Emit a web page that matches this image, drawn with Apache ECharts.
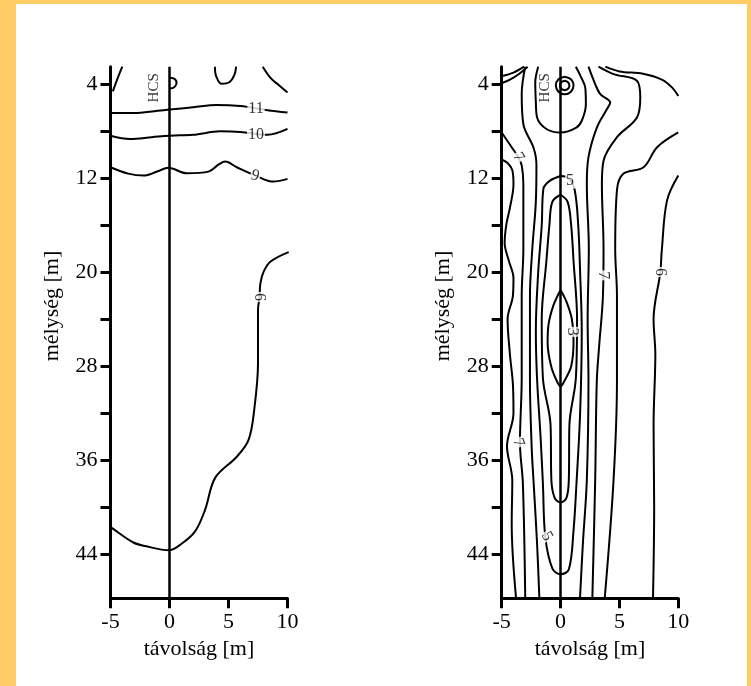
<!DOCTYPE html>
<html><head><meta charset="utf-8">
<script src="https://cdn.jsdelivr.net/npm/echarts@6/dist/echarts.min.js"></script>
<style>
html,body{margin:0;padding:0;background:#FFCC66;}
#frame{position:absolute;left:16px;top:4px;width:731px;height:682px;background:#fff;}
#c{position:absolute;left:0;top:0;width:751px;height:686px;}
</style></head>
<body><div id="frame"></div><div id="c"></div>
<script>
// ---------- data ----------
const xTicks = [-5, 0, 5, 10];
const depthTicks = [4, 8, 12, 16, 20, 24, 28, 32, 36, 40, 44];
const depthLabels = [4, 12, 20, 28, 36, 44];
const depthMin = 2.5, depthMax = 47.75;

// left panel contours [distance, depth]
const L_c11 = [[-5,6.45],[-3,6.45],[-1,6.25],[0,6.15],[2,5.95],[4,5.75],[6,5.85],[8.3,6.2],[10,6.4]];
const L_c10 = [[-5,8.37],[-3.35,8.65],[-1.5,8.5],[0,8.37],[2,8.3],[4.3,8.0],[6,8.05],[8.3,8.3],[10,7.8]];
const L_c9 = [[-5,11.06],[-3.5,11.6],[-2.2,11.77],[-1,11.4],[-0.1,11.1],[1.47,11.57],[3.3,11.43],[4.2,10.8],[4.72,10.58],[5.7,11.06],[7.3,11.77],[8.8,12.28],[10,12.05]];
const L_c6 = [[10.1,18.28],[8.54,19.1],[7.97,19.97],[7.7,20.96],[7.63,22.1],[7.5,23.2],[7.5,27.75],[7.18,31.7],[6.7,34.26],[5.7,35.7],[3.87,37.5],[3.02,40.2],[2.17,42.05],[0.9,43.2],[-0.03,43.66],[-2.07,43.3],[-3.06,43.0],[-4.9,41.76],[-5,41.7]];
const L_arcTL = [[-4.8,4.6],[-4.4,3.5],[-4.0,2.5]];
const L_u = [[3.85,2.5],[3.95,3.3],[4.4,3.95],[5.1,3.8],[5.5,3.2],[5.65,2.5]];
const L_diag = [[7.9,2.5],[8.6,3.5],[9.3,4.1],[10,4.7]];
const L_hcs = [[0,3.45],[0.35,3.5],[0.6,3.85],[0.4,4.25],[0,4.35]];
const L_labels = [['11',7.33,6.1],['10',7.33,8.3],['9',7.27,11.77],['6',7.63,22.1]];

// right panel contours
const R_hcsIn = [[0.35,3.7],[0.63,3.82],[0.75,4.1],[0.63,4.38],[0.35,4.5],[0.07,4.38],[-0.05,4.1],[0.07,3.82],[0.35,3.7]];
const R_hcsOut = [[0.35,3.35],[0.88,3.57],[1.1,4.1],[0.88,4.63],[0.35,4.85],[-0.18,4.63],[-0.4,4.1],[-0.18,3.57],[0.35,3.35]];
const R_bigLoop = [[-1.9,2.5],[-2.15,3.85],[-2.1,5.5],[-2.0,6.8],[-1.2,7.8],[0,8.1],[1.3,7.7],[1.8,7.1],[2.15,5.7],[2.1,4.3],[1.7,3.3],[1.3,2.5]];
const R_arc1 = [[-5,3.3],[-4.0,3.0],[-3.1,2.5]];
const R_arc2 = [[-5,3.9],[-4.3,3.6],[-3.5,3.1],[-2.8,2.5]];
const R_wavy = [[-5,10.4],[-4.5,10.7],[-4.1,11.3],[-4.0,12.5],[-4.3,14.5],[-4.6,15.9],[-4.75,17.5],[-4.4,19],[-4.0,20.5],[-4.05,22],[-4.5,24],[-4.3,27],[-4.05,29.5],[-4.0,32],[-4.55,34.8],[-4.1,37.7],[-4.15,41.4],[-3.78,47.75]];
const R_l7 = [[-5,8.1],[-4.15,9.36],[-3.59,10.2],[-3.3,10.9],[-3.16,12.5],[-3.16,18],[-3.3,22],[-3.3,29],[-3.45,34.5],[-3.2,38],[-3.0,47.75]];
const R_l6 = [[-3.0,2.5],[-3.3,4.8],[-3.16,7.4],[-2.31,9.36],[-2.05,10.8],[-2.1,14],[-2.4,18],[-2.6,22],[-2.6,29.2],[-2.45,35],[-2.3,37.7],[-2.0,43],[-1.8,47.75]];
const R_c5 = [[0,11.8],[-0.9,12.2],[-1.46,12.9],[-1.6,16],[-1.9,20],[-2.1,25],[-2.0,29],[-1.7,34],[-1.5,38],[-1.3,42.5],[-0.7,45.2],[0,45.7],[0.7,45.3],[1.1,42],[1.35,38],[1.66,32],[1.8,25],[1.66,20],[1.5,16],[1.2,13],[0.7,12.0],[0,11.8]];
const R_c4 = [[0,13.4],[-0.7,14.0],[-0.95,16],[-1.2,19],[-1.6,24],[-1.5,29],[-0.85,33],[-0.78,37.7],[-0.5,39.2],[0,39.6],[0.5,39.2],[0.7,37.7],[0.75,33],[1.3,29],[1.4,24],[1.1,19],[0.9,16],[0.6,14],[0,13.4]];
const R_c3 = [[0,21.5],[-0.6,22.8],[-1.03,24.5],[-1.1,26],[-0.8,28],[-0.3,29.3],[0,29.7],[0.35,29.2],[0.9,28],[1.1,26],[0.96,24],[0.5,22.5],[0,21.5]];
const R_r6 = [[2.37,2.5],[2.94,3.98],[3.37,4.83],[4.22,5.55],[3.94,6.1],[3.09,7.67],[2.37,10.2],[2.23,12.5],[2.4,18],[2.3,24],[2.37,29.2],[2.23,37.7],[1.9,43],[1.65,47.75]];
const R_r7a = [[3.22,2.5],[4.5,3.13],[6.49,3.7],[6.77,5.12],[6.49,6.82],[4.79,8.5],[3.65,10.5],[3.51,12.5],[3.65,18],[3.6,22],[3.3,26],[3.08,29.2],[2.94,37.7],[2.7,47.75]];
const R_r7b = [[10,8.1],[8.2,9.36],[7.05,11.06],[5.35,11.6],[4.79,13],[4.64,18],[4.79,22],[4.79,29.2],[4.5,37.7],[3.75,47.75]];
const R_topRight = [[3.8,2.5],[5,2.9],[7,3.1],[8.6,3.6],[9.5,4.3],[10,5.0]];
const R_farRight = [[10,11.77],[9.04,13.9],[8.6,18.1],[8.47,20],[7.9,24],[8.05,27],[7.9,33],[7.95,40],[7.85,47.75]];
const R_labels = [['7',-3.59,10.2],['5',0.81,12.2],['3',0.96,25.07],['7',3.65,20.26],['6',8.47,19.97],['7',-3.59,34.5],['5',-1.17,42.47]];

const hcsText = 'HCS';
const xName = 'távolság [m]';
const yName = 'mélység [m]';

// ---------- styles ----------
const L_labelRot = [0, 0, -15, -90];
const R_labelRot = [-60, 0, -90, -90, -90, -70, -60];
const FONT = 'Liberation Serif, Times New Roman, serif';

const chart = echarts.init(document.getElementById('c'), null, {renderer:'canvas'});
const grids = [
  {left:110.5, top:66.7, width:177, height:531.6},
  {left:501.7, top:66.7, width:176.6, height:531.6}
];
function xAx(i){return {gridIndex:i, type:'value', min:-5, max:10, interval:5, position:'bottom',
  axisLine:{onZero:false, lineStyle:{color:'#000', width:3}},
  axisTick:{show:true, length:10, lineStyle:{color:'#000', width:3}},
  axisLabel:{color:'#000', fontFamily:FONT, fontSize:22, margin:13},
  splitLine:{show:false},
  name:xName, nameLocation:'middle', nameGap:36,
  nameTextStyle:{color:'#000', fontFamily:FONT, fontSize:22}};}
function yAx(i){return {gridIndex:i, type:'value', inverse:true, min:depthMin, max:depthMax, position:'left',
  axisLine:{onZero:false, lineStyle:{color:'#000', width:3}},
  axisTick:{show:true, length:10, customValues:depthTicks, lineStyle:{color:'#000', width:3}},
  axisLabel:{color:'#000', fontFamily:FONT, fontSize:22, margin:13, customValues:depthLabels},
  splitLine:{show:false}};}
function line(data, gi){return {type:'line', xAxisIndex:gi, yAxisIndex:gi, data:data, smooth:0.35,
  symbol:'none', lineStyle:{color:'#000', width:2}, z:3, silent:true, animation:false};}
function labels(arr, rots, gi){return {type:'scatter', xAxisIndex:gi, yAxisIndex:gi, symbolSize:0, z:5, silent:true, animation:false,
  data: arr.map((a,k)=>({name:a[0], value:[a[1],a[2]], label:{rotate:rots[k]}})),
  label:{show:true, position:'inside', formatter:p=>p.name, color:'#000', fontFamily:FONT, fontSize:16,
    backgroundColor:'#fff', padding:[0,1]}};}
function hcs(gi){return {type:'scatter', xAxisIndex:gi, yAxisIndex:gi, symbolSize:0, z:5, silent:true, animation:false,
  data:[{name:hcsText, value:[-1.3,4.3]}],
  label:{show:true, position:'inside', rotate:90, formatter:p=>p.name, color:'#000', fontFamily:FONT, fontSize:15}};}
function zeroLine(gi){return {type:'line', xAxisIndex:gi, yAxisIndex:gi, data:[], symbol:'none',
  markLine:{silent:true, symbol:'none', animation:false, label:{show:false},
    lineStyle:{color:'#000', width:2.5, type:'solid'}, data:[{xAxis:0}]}};}

const series = [];
[L_c11,L_c10,L_c9,L_c6,L_arcTL,L_u,L_diag,L_hcs].forEach(d=>series.push(line(d,0)));
[R_hcsIn,R_hcsOut,R_bigLoop,R_arc1,R_arc2,R_wavy,R_l7,R_l6,R_c5,R_c4,R_c3,R_r6,R_r7a,R_r7b,R_topRight,R_farRight].forEach(d=>series.push(line(d,1)));
series.push(zeroLine(0), zeroLine(1));
series.push(labels(L_labels, L_labelRot, 0), labels(R_labels, R_labelRot, 1));
series.push(hcs(0), hcs(1));

chart.setOption({
  animation:false,
  backgroundColor:'transparent',
  grid:grids,
  xAxis:[xAx(0), xAx(1)],
  yAxis:[yAx(0), yAx(1)],
  series:series,
  graphic:[
    {type:'text', x:52.5, y:306, rotation:Math.PI/2, style:{text:yName, font:'22px '+FONT, fill:'#000', textAlign:'center', textVerticalAlign:'middle'}},
    {type:'text', x:443.7, y:306, rotation:Math.PI/2, style:{text:yName, font:'22px '+FONT, fill:'#000', textAlign:'center', textVerticalAlign:'middle'}}
  ]
});
</script></body></html>
